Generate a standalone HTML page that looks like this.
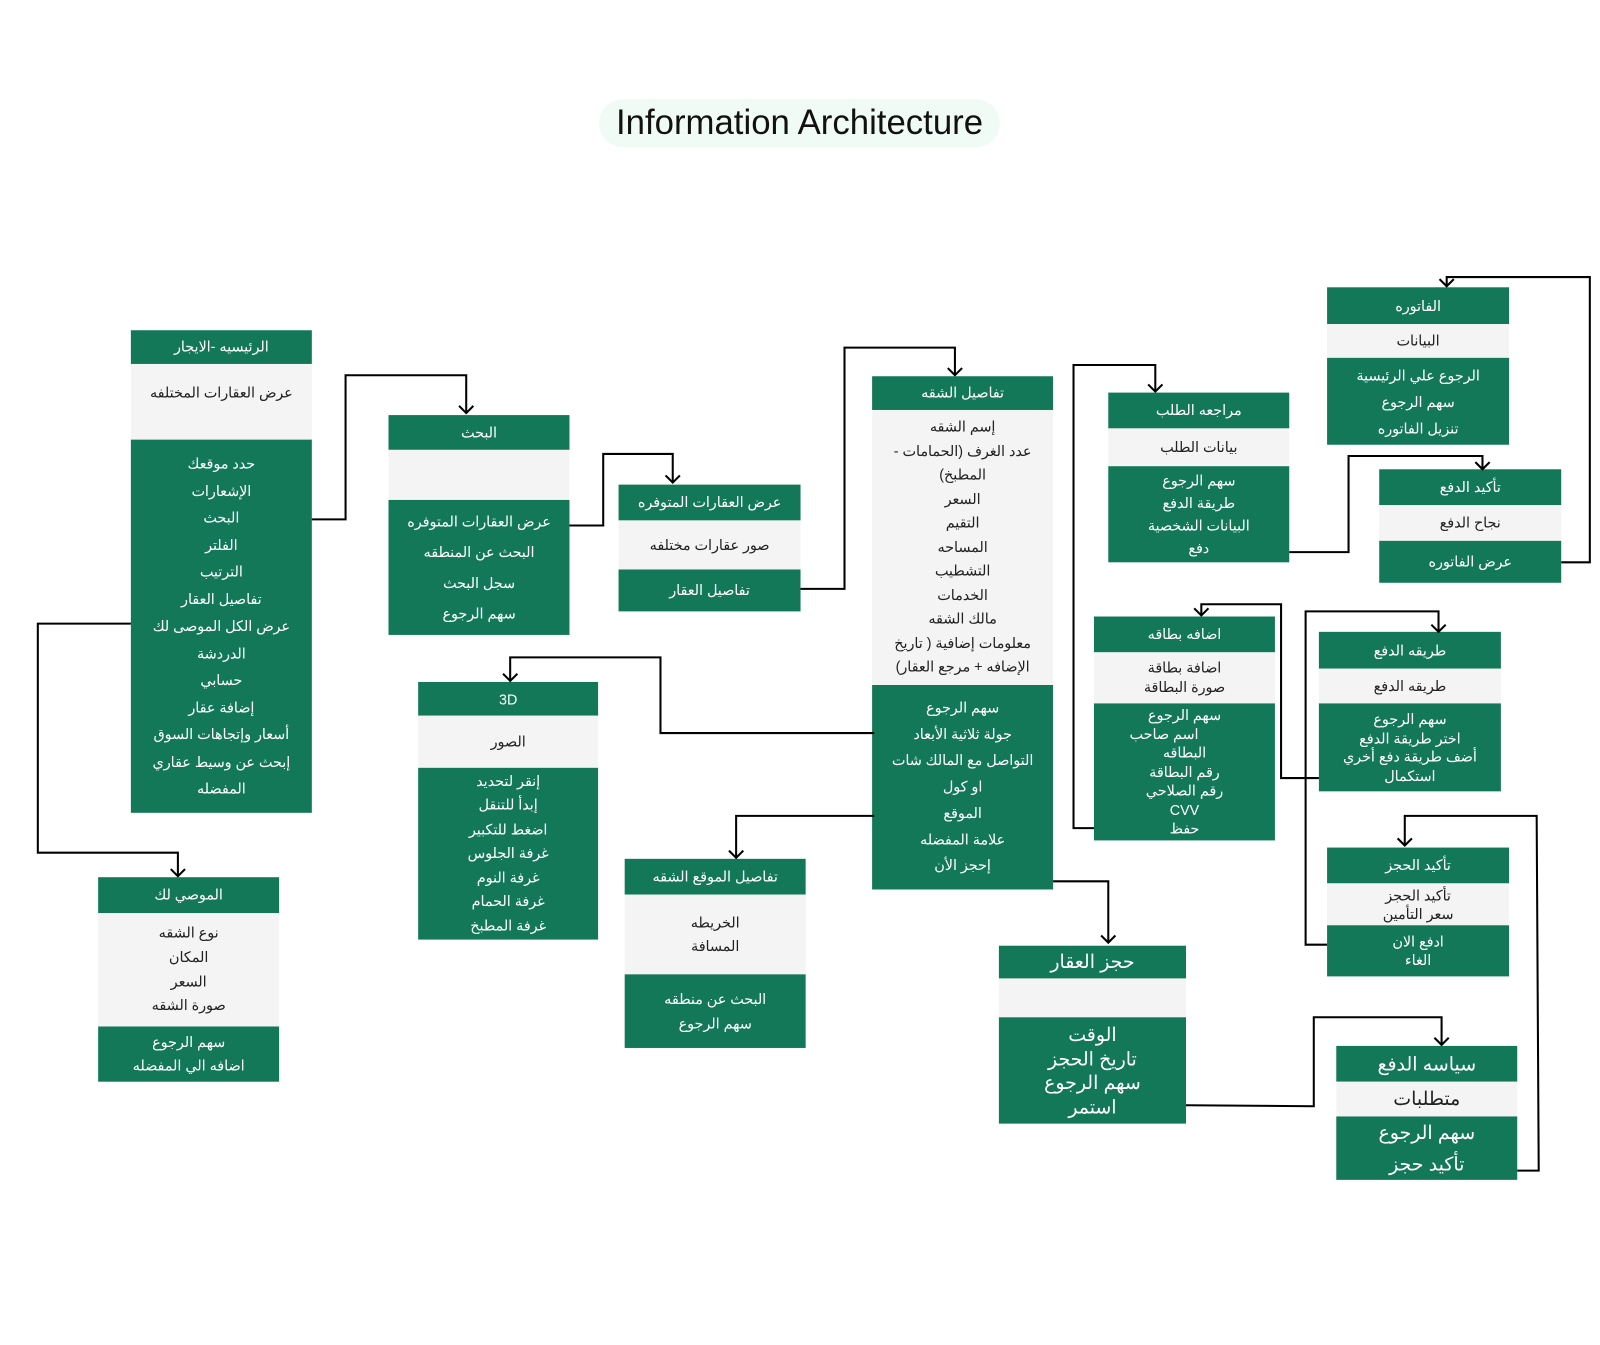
<!DOCTYPE html>
<html><head><meta charset="utf-8"><style>
html,body{margin:0;padding:0;background:#fff;width:1600px;height:1345px;overflow:hidden}
#c{position:absolute;left:0;top:0;width:1565px;height:1316px;transform:scale(1.0224);transform-origin:0 0;font-family:"Liberation Sans","Noto Sans CJK SC",sans-serif}
.b{position:absolute;direction:rtl}
.b>div{display:flex;flex-direction:column;justify-content:center;align-items:center;text-align:center;font-size:14px;white-space:nowrap;box-sizing:border-box}
.h,.g{background:#127857;color:#fff}
.l{background:#f4f4f4;color:#222}
.big>div{font-size:18.5px}
svg{position:absolute;left:0;top:0}
#t{position:absolute;left:586px;top:97px;width:392px;height:47px;border-radius:24px;background:#f1fbf6;font-size:34px;color:#111;text-align:center;line-height:47px;direction:ltr;white-space:nowrap}
</style></head><body><div id="c">
<div id="t">Information Architecture</div>

<div class="b" style="left:128px;top:323px;width:177px">
<div class="h" style="height:33px">الرئيسيه -الايجار</div>
<div class="l" style="height:74px;justify-content:flex-start;padding-top:20px">عرض العقارات المختلفه</div>
<div class="g" style="height:365px;line-height:26.5px">حدد موقعك<br>الإشعارات<br>البحث<br>الفلتر<br>الترتيب<br>تفاصيل العقار<br>عرض الكل الموصى لك<br>الدردشة<br>حسابي<br>إضافة عقار<br>أسعار وإتجاهات السوق<br>إبحث عن وسيط عقاري<br>المفضله</div>
</div>

<div class="b" style="left:380px;top:406px;width:177px">
<div class="h" style="height:34px">البحث</div>
<div class="l" style="height:49px"></div>
<div class="g" style="height:132px;line-height:30px">عرض العقارات المتوفره<br>البحث عن المنطقه<br>سجل البحث<br>سهم الرجوع</div>
</div>

<div class="b" style="left:605px;top:474px;width:178px">
<div class="h" style="height:35px">عرض العقارات المتوفره</div>
<div class="l" style="height:48px">صور عقارات مختلفه</div>
<div class="g" style="height:41px">تفاصيل العقار</div>
</div>

<div class="b" style="left:853px;top:368px;width:177px">
<div class="h" style="height:33px">تفاصيل الشقه</div>
<div class="l" style="height:269px;line-height:23.5px">إسم الشقه<br>عدد الغرف (الحمامات -<br>المطبخ)<br>السعر<br>التقيم<br>المساحه<br>التشطيب<br>الخدمات<br>مالك الشقه<br>معلومات إضافية ( تاريخ<br>الإضافه + مرجع العقار)</div>
<div class="g" style="height:200px;line-height:25.7px">سهم الرجوع<br>جولة ثلاثية الأبعاد<br>التواصل مع المالك شات<br>او كول<br>الموقع<br>علامة المفضله<br>إحجز الأن</div>
</div>

<div class="b" style="left:1084px;top:384px;width:177px">
<div class="h" style="height:35px">مراجعه الطلب</div>
<div class="l" style="height:37px">بيانات الطلب</div>
<div class="g" style="height:94px;line-height:22px">سهم الرجوع<br>طريقة الدفع<br>البيانات الشخصية<br>دفع</div>
</div>

<div class="b" style="left:1298px;top:281px;width:178px">
<div class="h" style="height:36px">الفاتوره</div>
<div class="l" style="height:33px">البيانات</div>
<div class="g" style="height:85px;line-height:26px">الرجوع علي الرئيسية<br>سهم الرجوع<br>تنزيل الفاتوره</div>
</div>

<div class="b" style="left:1349px;top:459px;width:178px">
<div class="h" style="height:35px">تأكيد الدفع</div>
<div class="l" style="height:35px">نجاح الدفع</div>
<div class="g" style="height:41px">عرض الفاتوره</div>
</div>

<div class="b" style="left:1070px;top:603px;width:177px">
<div class="h" style="height:35px">اضافه بطاقه</div>
<div class="l" style="height:50px;line-height:19px">اضافة بطاقة<br>صورة البطاقة</div>
<div class="g" style="height:134px;line-height:18.5px">سهم الرجوع<br><span style="margin-right:40px">اسم صاحب</span>البطاقه<br>رقم البطاقة<br>رقم الصلاحي<br>CVV<br>حفظ</div>
</div>

<div class="b" style="left:1290px;top:618px;width:178px">
<div class="h" style="height:36px">طريقه الدفع</div>
<div class="l" style="height:34px">طريقه الدفع</div>
<div class="g" style="height:86px;line-height:18.5px">سهم الرجوع<br>اختر طريقة الدفع<br>أضف طريقة دفع أخري<br>استكمال</div>
</div>

<div class="b" style="left:1298px;top:829px;width:178px">
<div class="h" style="height:35px">تأكيد الحجز</div>
<div class="l" style="height:41px;line-height:18px">تأكيد الحجز<br>سعر التأمين</div>
<div class="g" style="height:50px;line-height:18px">ادفع الان<br>الغاء</div>
</div>

<div class="b big" style="left:1307px;top:1023px;width:177px">
<div class="h" style="height:35px">سياسه الدفع</div>
<div class="l" style="height:34px">متطلبات</div>
<div class="g" style="height:62px;line-height:31px">سهم الرجوع<br>تأكيد حجز</div>
</div>

<div class="b big" style="left:977px;top:925px;width:183px">
<div class="h" style="height:32px">حجز العقار</div>
<div class="l" style="height:38px"></div>
<div class="g" style="height:104px;line-height:23.5px">الوقت<br>تاريخ الحجز<br>سهم الرجوع<br>استمر</div>
</div>

<div class="b" style="left:611px;top:840px;width:177px">
<div class="h" style="height:35px">تفاصيل الموقع الشقه</div>
<div class="l" style="height:78px;line-height:23px">الخريطه<br>المسافة</div>
<div class="g" style="height:72px;line-height:24px">البحث عن منطقه<br>سهم الرجوع</div>
</div>

<div class="b" style="left:409px;top:667px;width:176px">
<div class="h" style="height:33px">3D</div>
<div class="l" style="height:51px">الصور</div>
<div class="g" style="height:168px;line-height:23.5px">إنقر لتحديد<br>إبدأ للتنقل<br>اضغط للتكبير<br>غرفة الجلوس<br>غرفة النوم<br>غرفة الحمام<br>غرفة المطبخ</div>
</div>

<div class="b" style="left:96px;top:858px;width:177px">
<div class="h" style="height:35px">الموصي لك</div>
<div class="l" style="height:111px;line-height:23.6px">نوع الشقه<br>المكان<br>السعر<br>صورة الشقه</div>
<div class="g" style="height:54px;line-height:23px">سهم الرجوع<br>اضافه الي المفضله</div>
</div>

<svg width="1565" height="1316" fill="none" stroke="#000" stroke-width="2">
<polyline points="305,508 338,508 338,367 456,367 456,404"/><polyline points="449,397 456,404 463,397"/>
<polyline points="557,514 590,514 590,444 658,444 658,472"/><polyline points="651,465 658,472 665,465"/>
<polyline points="783,576 826,576 826,340 934,340 934,367"/><polyline points="927,360 934,367 941,360"/>
<polyline points="128,610 37,610 37,834 174,834 174,857"/><polyline points="167,850 174,857 181,850"/>
<polyline points="855,717 646,717 646,643 499,643 499,666"/><polyline points="492,659 499,666 506,659"/>
<polyline points="855,798 720,798 720,839"/><polyline points="713,832 720,839 727,832"/>
<polyline points="1030,862 1084,862 1084,922"/><polyline points="1077,915 1084,922 1091,915"/>
<polyline points="1070,810 1050,810 1050,357 1130,357 1130,383"/><polyline points="1123,376 1130,383 1137,376"/>
<polyline points="1261,540 1319,540 1319,446 1450,446 1450,459"/><polyline points="1443,452 1450,459 1457,452"/>
<polyline points="1527,550 1555,550 1555,271 1415,271 1415,280"/><polyline points="1408,273 1415,280 1422,273"/>
<polyline points="1290,761 1253,761 1253,591 1175,591 1175,602"/><polyline points="1168,595 1175,602 1182,595"/>
<polyline points="1298,924 1277,924 1277,598 1407,598 1407,618"/><polyline points="1400,611 1407,618 1414,611"/>
<polyline points="1484,1145 1505,1145 1503,798 1374,798 1374,827"/><polyline points="1367,820 1374,827 1381,820"/>
<polyline points="1160,1081 1285,1082 1285,995 1410,995 1410,1022"/><polyline points="1403,1015 1410,1022 1417,1015"/>
</svg>
</div></body></html>
